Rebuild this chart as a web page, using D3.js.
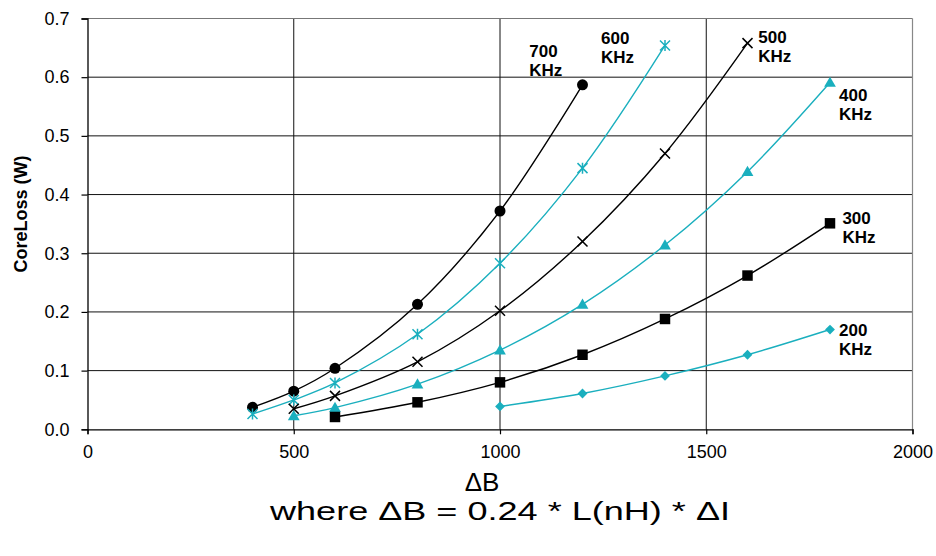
<!DOCTYPE html>
<html>
<head>
<meta charset="utf-8">
<script src="https://cdn.jsdelivr.net/npm/d3@7"></script>
<style>
  html, body { margin: 0; padding: 0; background: #fff; }
  svg { display: block; }
  text { font-family: "Liberation Sans", Arial, sans-serif; }
</style>
</head>
<body>
<svg id="chart" width="936" height="556"></svg>
<script>
// ---- data ----
const seriesNames = ["700", "600", "500", "400", "300", "200"];
const x700 = [400, 500, 600, 800, 1000, 1200];
const y700 = [0.0375, 0.065, 0.104, 0.213, 0.372, 0.587];
const x600 = [400, 500, 600, 800, 1000, 1200, 1400];
const y600 = [0.026, 0.050, 0.079, 0.162, 0.283, 0.445, 0.654];
const x500 = [500, 600, 800, 1000, 1200, 1400, 1600];
const y500 = [0.035, 0.057, 0.115, 0.202, 0.320, 0.470, 0.658];
const x400 = [500, 600, 800, 1000, 1200, 1400, 1600, 1800];
const y400 = [0.023, 0.037, 0.077, 0.135, 0.213, 0.314, 0.439, 0.591];
const x300 = [600, 800, 1000, 1200, 1400, 1600, 1800];
const y300 = [0.021, 0.046, 0.080, 0.127, 0.188, 0.262, 0.351];
const x200 = [1000, 1200, 1400, 1600, 1800];
const y200 = [0.039, 0.061, 0.091, 0.127, 0.170];
// label anchors (data units)
const labelX = [1071, 1245, 1626, 1822, 1830, 1822];
const labelY = [0.635, 0.657, 0.659, 0.560, 0.350, 0.159];
const xTicks = [0, 500, 1000, 1500, 2000];
const yTicks = [0, 0.1, 0.2, 0.3, 0.4, 0.5, 0.6, 0.7];
const yTitle = "CoreLoss (W)";
const xTitle1 = "\u0394B";
const xTitle2 = "where \u0394B = 0.24 * L(nH) * \u0394I";

// ---- styling ----
const CYAN = "#1aafbe";
const seriesX = [x700, x600, x500, x400, x300, x200];
const seriesY = [y700, y600, y500, y400, y300, y200];
const colors = ["#000", CYAN, "#000", CYAN, "#000", CYAN];
const markers = ["circle", "asterisk", "times", "triangle", "square", "diamond"];

const svg = d3.select("#chart");
const L = 87.5, R = 912.5, T = 18.5, B = 429.3;
const x = d3.scaleLinear().domain([0, 2000]).range([L, R]);
const y = d3.scaleLinear().domain([0, 0.7]).range([B, T]);

// grid
const g = svg.append("g");
g.selectAll("line.h").data(yTicks.slice(1, -1)).join("line")
  .attr("x1", L).attr("x2", R).attr("y1", d => y(d)).attr("y2", d => y(d))
  .attr("stroke", "#111").attr("stroke-width", 1);
g.selectAll("line.v").data(xTicks.slice(1, -1)).join("line")
  .attr("y1", T).attr("y2", B).attr("x1", d => x(d)).attr("x2", d => x(d))
  .attr("stroke", "#111").attr("stroke-width", 1);
// top/right border (gray)
g.append("line").attr("x1", L).attr("x2", R).attr("y1", T).attr("y2", T).attr("stroke", "#777").attr("stroke-width", 1.2);
g.append("line").attr("x1", R).attr("x2", R).attr("y1", T).attr("y2", B).attr("stroke", "#888").attr("stroke-width", 1.2);

// axes
const yAxis = d3.axisLeft(y).tickValues(yTicks).tickFormat(d3.format(".1f")).tickSize(6).tickPadding(12);
const xAxis = d3.axisBottom(x).tickValues(xTicks).tickFormat(d3.format("d")).tickSize(5).tickPadding(11);
const ya = svg.append("g").attr("transform", `translate(${L},0)`).call(yAxis);
const xa = svg.append("g").attr("transform", `translate(0,${B})`).call(xAxis);
[ya, xa].forEach(a => {
  a.selectAll("path.domain").attr("stroke", "#000").attr("stroke-width", 1.3);
  a.selectAll(".tick line").attr("stroke", "#000").attr("stroke-width", 1.2);
  a.selectAll(".tick text").attr("fill", "#000").style("font-size", "18px")
    .style("font-family", '"Liberation Sans", Arial, sans-serif');
});

// series
const line = d3.line().x(d => x(d[0])).y(d => y(d[1])).curve(d3.curveCatmullRom.alpha(0.5));
const markerPath = {
  circle: d3.symbol(d3.symbolCircle, 95)(),
  square: d3.symbol(d3.symbolSquare, 110)(),
  triangle: d3.symbol(d3.symbolTriangle, 60)(),
  diamond: d3.symbol(d3.symbolSquare, 48)(),
  times: "M-5,-5L5,5M-5,5L5,-5",
  asterisk: "M-5,-5L5,5M-5,5L5,-5M0,-5.5L0,5.5"
};
seriesNames.forEach((name, i) => {
  const pts = seriesX[i].map((v, j) => [v, seriesY[i][j]]);
  const sg = svg.append("g");
  sg.append("path").attr("d", line(pts)).attr("fill", "none")
    .attr("stroke", colors[i]).attr("stroke-width", 1.4);
  const m = markers[i];
  const stroked = (m === "times" || m === "asterisk");
  sg.selectAll("path.mk").data(pts).join("path")
    .attr("class", "mk")
    .attr("d", markerPath[m])
    .attr("transform", d => `translate(${x(d[0])},${y(d[1])})` + (m === "diamond" ? " rotate(45)" : "") + (m === "triangle" ? " translate(0,1)" : ""))
    .attr("fill", stroked ? "none" : colors[i])
    .attr("stroke", stroked ? colors[i] : "none")
    .attr("stroke-width", 1.5);
  const t = svg.append("text")
    .attr("x", x(labelX[i])).attr("y", y(labelY[i]))
    .style("font-size", "17px").style("font-weight", "bold").attr("fill", "#000");
  t.append("tspan").attr("x", x(labelX[i])).text(name);
  t.append("tspan").attr("x", x(labelX[i])).attr("dy", 19.5).text("KHz");
});

// titles
svg.append("text")
  .attr("transform", `translate(27,214) rotate(-90)`)
  .attr("text-anchor", "middle")
  .style("font-size", "18px").style("font-weight", "bold")
  .text(yTitle);
svg.append("text").attr("x", 482).attr("y", 491).attr("text-anchor", "middle")
  .style("font-size", "26px").text(xTitle1);
svg.append("text").attr("x", 500).attr("y", 520).attr("text-anchor", "middle")
  .style("font-size", "26px").attr("textLength", 460).attr("lengthAdjust", "spacingAndGlyphs").text(xTitle2);
</script>
</body>
</html>
